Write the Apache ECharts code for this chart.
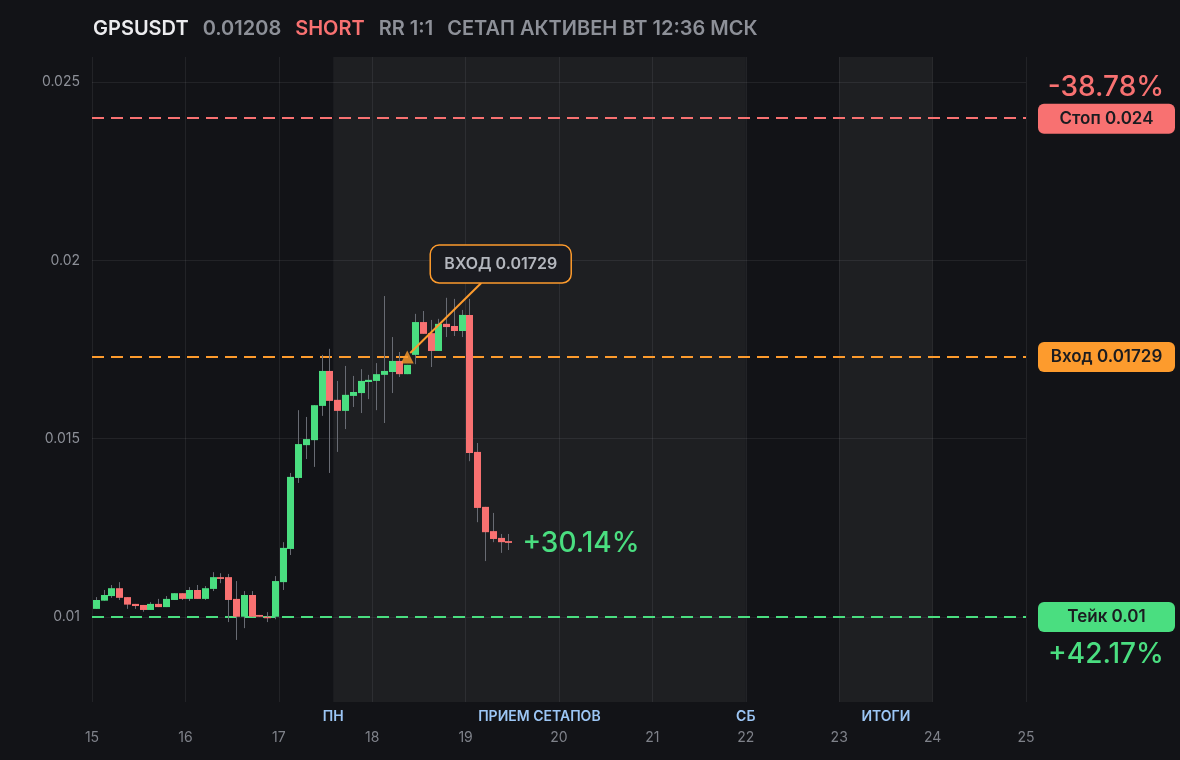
<!DOCTYPE html>
<html><head><meta charset="utf-8">
<script src="https://cdn.jsdelivr.net/npm/echarts@6/dist/echarts.min.js"></script>
<style>html,body{margin:0;padding:0;background:#121317;}#c{width:1180px;height:760px;}</style>
</head><body><div id="c"></div>
<script>
// ---- data ----
const ticker = 'GPSUSDT';
const lastPriceText = '0.01208';
const sideText = 'SHORT';
const rrText = 'RR 1:1';
const statusText = 'СЕТАП АКТИВЕН ВТ 12:36 МСК';

const firstDay = 15;        // day-of-month of first candle
const candleHours = 2;      // 2h candles
const opens  = [0.01023,0.01046,0.01059,0.01081,0.01056,0.01037,0.01034,0.01020,0.01037,0.01028,
                0.01048,0.01067,0.01051,0.01076,0.01051,0.01079,0.01112,0.01112,0.01051,0.01001,
                0.01062,0.01006,0.01001,0.01001,0.01098,0.01191,0.01390,0.01482,0.01496,0.01592,
                0.01690,0.01609,0.01578,0.01620,0.01628,0.01659,0.01662,0.01679,0.01687,0.01718,
                0.01681,0.01735,0.01827,0.01796,0.01746,0.01822,0.01816,0.01802,0.01847,0.01463,
                0.01309,0.01241,0.01222,0.01213];
const closes = [0.01048,0.01062,0.01081,0.01054,0.01035,0.01031,0.01020,0.01037,0.01028,0.01051,
                0.01067,0.01051,0.01076,0.01051,0.01081,0.01112,0.01107,0.01048,0.01001,0.01062,
                0.01001,0.01001,0.00999,0.01101,0.01194,0.01393,0.01485,0.01499,0.01594,0.01690,
                0.01606,0.01578,0.01623,0.01631,0.01662,0.01665,0.01681,0.01690,0.01718,0.01681,
                0.01707,0.01827,0.01794,0.01746,0.01822,0.01813,0.01802,0.01847,0.01460,0.01306,
                0.01238,0.01219,0.01210,0.01208];
const lows   = [0.01023,0.01046,0.01054,0.01048,0.01023,0.01023,0.01015,0.01020,0.01028,0.01028,
                0.01048,0.01048,0.01045,0.01051,0.01048,0.01073,0.01095,0.00986,0.00936,0.00969,
                0.01001,0.01001,0.00986,0.00994,0.01076,0.01174,0.01376,0.01443,0.01421,0.01564,
                0.01404,0.01463,0.01527,0.01589,0.01572,0.01611,0.01580,0.01544,0.01628,0.01673,
                0.01681,0.01709,0.01794,0.01701,0.01746,0.01785,0.01788,0.01785,0.01437,0.01266,
                0.01157,0.01210,0.01180,0.01188];
const highs  = [0.01056,0.01076,0.01090,0.01098,0.01056,0.01037,0.01034,0.01042,0.01051,0.01059,
                0.01067,0.01067,0.01084,0.01090,0.01087,0.01126,0.01123,0.01121,0.01101,0.01073,
                0.01073,0.01006,0.01014,0.01115,0.01210,0.01404,0.01580,0.01561,0.01594,0.01735,
                0.01752,0.01662,0.01704,0.01676,0.01695,0.01679,0.01712,0.01900,0.01785,0.01743,
                0.01707,0.01850,0.01858,0.01833,0.01836,0.01895,0.01892,0.01861,0.01892,0.01488,
                0.01309,0.01292,0.01233,0.01233];

const entryPrice = 0.01729, stopPrice = 0.024, takePrice = 0.01;
const entryCandle = 40;
const entryLabel = 'ВХОД 0.01729';
const stopLabel = 'Стоп 0.024', entryTag = 'Вход 0.01729', takeLabel = 'Тейк 0.01';
const stopPct = '-38.78%', takePct = '+42.17%', currentPct = '+30.14%';

const dayTicks = [15,16,17,18,19,20,21,22,23,24,25];
const priceTicks = [0.01, 0.015, 0.02, 0.025];
const bands = [[17.583, 22], [23, 24]];
const bandLabels = [['ПН', 17.583], ['ПРИЕМ СЕТАПОВ', 19.79], ['СБ', 22], ['ИТОГИ', 23.5]];

// ---- styles ----
const GREEN = '#4ade80', RED = '#f87171', ORANGE = '#fd9b2d', WICK = '#686b73';
const FONT = 'Inter';

const candleTime = i => firstDay + (i + 0.5) * candleHours / 24;
const candleData = opens.map((o, i) => [candleTime(i), o, closes[i], lows[i], highs[i]]);

const chart = echarts.init(document.getElementById('c'), null, {renderer: 'canvas'});

const option = {
  backgroundColor: '#121317',
  animation: false,
  textStyle: {fontFamily: FONT},
  title: {
    left: 93, top: 19, padding: 0,
    text: `{a|${ticker}}{b|${lastPriceText}}{r|${sideText}}{b|${rrText}}{c|${statusText}}`,
    textStyle: {
      rich: {
        a: {fontFamily: FONT, fontSize: 20, fontWeight: 600, color: '#ececef', padding: [0, 14, 0, 0]},
        b: {fontFamily: FONT, fontSize: 20, fontWeight: 600, color: '#8d9098', padding: [0, 14, 0, 0]},
        r: {fontFamily: FONT, fontSize: 20, fontWeight: 600, color: RED, padding: [0, 14, 0, 0]},
        c: {fontFamily: FONT, fontSize: 20, fontWeight: 600, color: '#8d9098'}
      }
    }
  },
  grid: {left: 92, right: 154, top: 57, bottom: 58},
  xAxis: {
    type: 'value', min: 15, max: 25, interval: 1,
    axisLine: {show: false}, axisTick: {show: false},
    splitLine: {show: true, lineStyle: {color: 'rgba(255,255,255,0.07)', width: 1}},
    axisLabel: {color: '#7f828a', fontSize: 14, fontFamily: FONT, margin: 29,
      formatter: v => dayTicks.includes(v) ? String(v) : ''}
  },
  yAxis: {
    type: 'value', min: 0.00762, max: 0.0257,
    axisLine: {show: false},
    axisTick: {show: false, customValues: priceTicks},
    splitLine: {show: true, lineStyle: {color: 'rgba(255,255,255,0.07)', width: 1}},
    axisLabel: {customValues: priceTicks, color: '#8d9098', fontSize: 14, fontFamily: FONT, margin: 12,
      formatter: v => String(+v.toFixed(4))}
  },
  series: [
    {
      type: 'line', data: [], silent: true,
      markArea: {silent: true, itemStyle: {color: 'rgba(255,255,255,0.05)'},
        data: bands.map(b => [{xAxis: b[0]}, {xAxis: b[1]}])},
      markLine: {
        silent: true, symbol: 'none', label: {show: false}, precision: 6,
        data: [
          {yAxis: stopPrice, lineStyle: {color: RED, type: [12, 7], width: 2}},
          {yAxis: entryPrice, lineStyle: {color: ORANGE, type: [12, 7], width: 2}},
          {yAxis: takePrice, lineStyle: {color: GREEN, type: [12, 7], width: 2}}
        ]
      }
    },
    {
      type: 'custom', data: candleData, z: 5,
      encode: {x: 0, y: [1, 2, 3, 4]},
      renderItem: (params, api) => {
        const t = api.value(0), o = api.value(1), c = api.value(2), l = api.value(3), h = api.value(4);
        const pO = api.coord([t, o]), pC = api.coord([t, c]), pL = api.coord([t, l]), pH = api.coord([t, h]);
        const xc = Math.round(pO[0]);
        const w = 7;
        const top = Math.min(pO[1], pC[1]);
        const hh = Math.max(Math.abs(pO[1] - pC[1]), 1.5);
        return {type: 'group', children: [
          {type: 'line', shape: {x1: xc + 0.5, y1: pH[1], x2: xc + 0.5, y2: pL[1]}, style: {stroke: WICK, lineWidth: 1}},
          {type: 'rect', shape: {x: xc - 3, y: top, width: w, height: hh}, style: {fill: c >= o ? GREEN : RED}}
        ]};
      }
    },
    {
      type: 'scatter', z: 6, silent: true,
      symbol: 'triangle', symbolSize: [13, 13],
      itemStyle: {color: ORANGE},
      data: [[candleTime(entryCandle), entryPrice]]
    }
  ]
};
chart.setOption(option);

// ---- annotations positioned from axis scales ----
const px = (x, y) => chart.convertToPixel({gridIndex: 0}, [x, y]);
const pEntry = px(candleTime(entryCandle), entryPrice);
const pLast = px(candleTime(opens.length - 1), closes[closes.length - 1]);
const yStop = px(15, stopPrice)[1], yEntry = pEntry[1], yTake = px(15, takePrice)[1];
const axisBottom = px(15, 0.00762)[1];

const g = [];
// entry callout
const boxX = pEntry[0] + 23, boxY = pEntry[1] - 112, boxW = 141, boxH = 38;
g.push({type: 'line', z: 20, shape: {x1: pEntry[0] + 3, y1: pEntry[1] - 4, x2: pEntry[0] + 74, y2: boxY + boxH},
  style: {stroke: ORANGE, lineWidth: 2}});
g.push({type: 'rect', z: 21, shape: {x: boxX, y: boxY, width: boxW, height: boxH, r: 9},
  style: {fill: '#1a1b20', stroke: ORANGE, lineWidth: 1.5}});
g.push({type: 'text', z: 22, x: boxX + boxW / 2, y: boxY + boxH / 2,
  style: {text: entryLabel, fill: '#b4b7be', font: `600 16px ${FONT}`, align: 'center', verticalAlign: 'middle'}});
// current pct
g.push({type: 'text', z: 22, x: pLast[0] + 14, y: pLast[1] + 1,
  style: {text: currentPct, fill: GREEN, font: `500 28px ${FONT}`, align: 'left', verticalAlign: 'middle'}});
// right tags
const tag = (y, txt, col) => {
  g.push({type: 'rect', z: 21, shape: {x: 1038, y: y - 15, width: 137, height: 30, r: 6}, style: {fill: col}});
  g.push({type: 'text', z: 22, x: 1106.5, y: y, style: {text: txt, fill: '#1b1c20', font: `600 17px ${FONT}`, align: 'center', verticalAlign: 'middle'}});
};
tag(yStop + 1, stopLabel, RED);
tag(yEntry, entryTag, ORANGE);
tag(yTake, takeLabel, GREEN);
g.push({type: 'text', z: 22, x: 1106, y: yStop - 30, style: {text: stopPct, fill: RED, font: `500 28px ${FONT}`, align: 'center', verticalAlign: 'middle'}});
g.push({type: 'text', z: 22, x: 1106, y: yTake + 37, style: {text: takePct, fill: GREEN, font: `500 28px ${FONT}`, align: 'center', verticalAlign: 'middle'}});
// band labels
bandLabels.forEach(([t, d]) => {
  g.push({type: 'text', z: 22, x: px(d, 0.01)[0], y: axisBottom + 15,
    style: {text: t, fill: '#9cc6f5', font: `600 14px ${FONT}`, align: 'center', verticalAlign: 'middle'}});
});
chart.setOption({graphic: g});
</script></body></html>
